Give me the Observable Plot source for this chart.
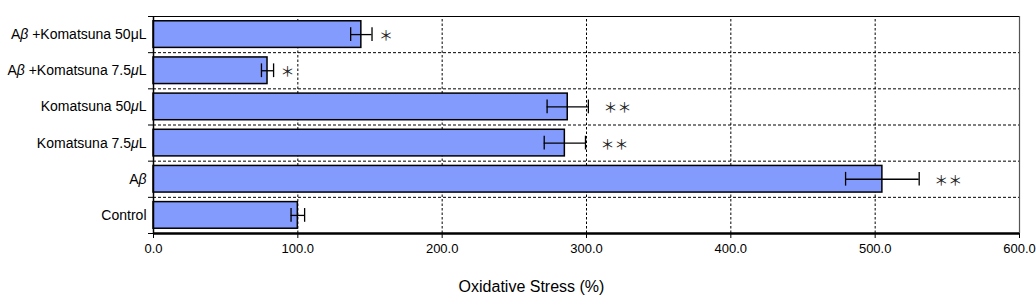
<!DOCTYPE html>
<html>
<head>
<meta charset="utf-8">
<script src="https://cdn.jsdelivr.net/npm/d3@7"></script>
<script src="https://cdn.jsdelivr.net/npm/@observablehq/plot@0.6"></script>
<style>
  html, body { margin: 0; padding: 0; background: #fff; }
  svg { font-family: "Liberation Sans", Arial, sans-serif; }
</style>
</head>
<body>
<div id="chart"></div>
<script>
// Categories listed from bottom to top
const categories = ["Control", "Aβ", "Komatsuna 7.5μL", "Komatsuna 50μL", "Aβ +Komatsuna 7.5μL", "Aβ +Komatsuna 50μL"];
const values = [100, 505, 285, 287, 79, 144];
const errors = [4.7, 25.5, 14.3, 14.3, 4.2, 7.4];
const significance = ["", "＊＊", "＊＊", "＊＊", "＊", "＊"];
const uprightMu = ["Aβ +Komatsuna 50μL"]; // labels whose μ is not italic
const xTicks = [0, 100, 200, 300, 400, 500, 600];
const xLabel = "Oxidative Stress (%)";

const data = categories.map((c, i) => ({
  i, category: c, value: values[i], err: errors[i], sig: significance[i]
}));
const n = categories.length;
const boundaries = d3.range(0.5, n - 0.5, 1);
const half = 0.368;
const cap = 0.19;
const sigStyle = {
  y: "i", text: "sig", textAnchor: "middle", dy: 1,
  fontFamily: "'Noto Sans CJK JP', sans-serif", fontSize: 14, fill: "#222"
};

const chart = Plot.plot({
  width: 1036,
  height: 308,
  marginTop: 16,
  marginBottom: 75,
  marginLeft: 153,
  marginRight: 17,
  style: { fontFamily: "'Liberation Sans', Arial, sans-serif", fontSize: "13px", color: "#000" },
  x: { type: "linear", domain: [0, 600] },
  y: { type: "linear", domain: [-0.5, n - 0.5] },
  marks: [
    // grid lines
    Plot.ruleX(xTicks.slice(1, -1), { y1: -0.5, y2: n - 0.5, stroke: "#000", strokeWidth: 1, strokeDasharray: "2.5,2" }),
    Plot.ruleY(boundaries, { x1: 0, x2: 600, stroke: "#000", strokeWidth: 1, strokeDasharray: "3,2" }),
    // bars
    Plot.rectX(data, {
      x1: 0, x2: "value",
      y1: d => d.i - half, y2: d => d.i + half,
      fill: "#839bfc", stroke: "#000", strokeWidth: 1.5
    }),
    // error bars
    Plot.ruleY(data, { y: "i", x1: d => d.value - d.err, x2: d => d.value + d.err, stroke: "#000", strokeWidth: 1.3 }),
    Plot.ruleX(data, { x: d => d.value - d.err, y1: d => d.i - cap, y2: d => d.i + cap, stroke: "#000", strokeWidth: 1.3 }),
    Plot.ruleX(data, { x: d => d.value + d.err, y1: d => d.i - cap, y2: d => d.i + cap, stroke: "#000", strokeWidth: 1.3 }),
    // frame: top, right, left lines
    Plot.ruleY([n - 0.5], { x1: 0, x2: 600, stroke: "#000", strokeWidth: 1.2 }),
    Plot.ruleX([600], { y1: -0.5, y2: n - 0.5, stroke: "#555", strokeWidth: 1.2 }),
    Plot.ruleX([0], { y1: -0.5, y2: n - 0.5, stroke: "#000", strokeWidth: 1.5 }),
    // significance markers
    Plot.text(data.filter(d => d.sig.length === 1), { ...sigStyle, x: d => d.value + d.err, dx: 14 }),
    Plot.text(data.filter(d => d.sig.length === 2), { ...sigStyle, x: d => d.value + d.err, dx: 29 }),
    // axes
    Plot.axisX({ ticks: xTicks, tickFormat: d3.format(".1f"), tickSize: 5, tickPadding: 5, label: null, fontSize: 13 }),
    Plot.ruleY([-0.5], { x1: 0, x2: 600, stroke: "#000", strokeWidth: 2.5 }),
    Plot.axisY({ ticks: d3.range(-0.5, n, 1), tickSize: 5, tickFormat: () => "", label: null }),
    Plot.axisY({ ticks: d3.range(n), tickSize: 0, tickPadding: 7, tickFormat: i => categories[i], label: null, fontSize: 14 }),
    Plot.text([xLabel], { frameAnchor: "bottom", dy: 58, dx: -55, fontSize: 16, fill: "#000" })
  ]
});

// italicise the Greek letters in the category labels
d3.select(chart).selectAll("text")
  .filter(function () { return categories.includes(this.textContent) && !this.querySelector("tspan"); })
  .each(function () {
    const label = this.textContent;
    const sel = d3.select(this);
    sel.text(null);
    const parts = label.split(/([βμ])/).filter(s => s.length);
    for (const p of parts) {
      const t = sel.append("tspan").text(p);
      if (p === "β" || (p === "μ" && !uprightMu.includes(label))) t.attr("font-style", "italic");
    }
  });

document.getElementById("chart").append(chart);
</script>
</body>
</html>
